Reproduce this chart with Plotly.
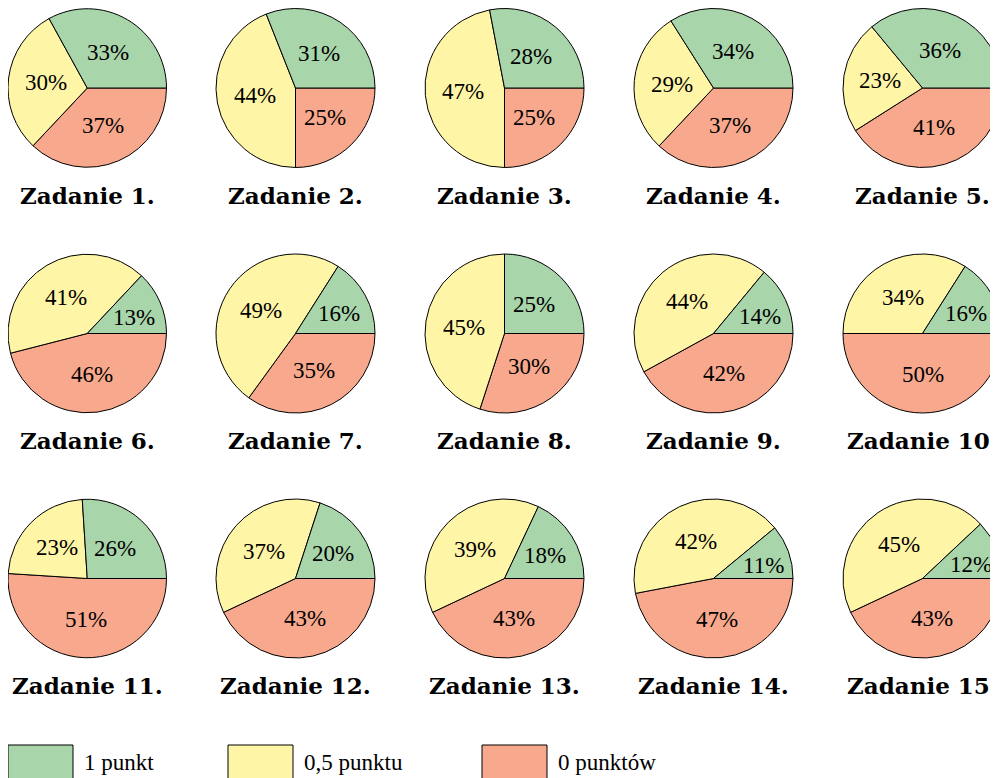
import math
import plotly.graph_objects as go

# ---- data ----
titles = [f"Zadanie {i}." for i in range(1, 16)]
one_point = [33, 31, 28, 34, 36, 13, 16, 25, 14, 16, 26, 20, 18, 11, 12]
half_point = [30, 44, 47, 29, 23, 41, 49, 45, 44, 34, 23, 37, 39, 42, 45]
zero_point = [37, 25, 25, 37, 41, 46, 35, 30, 42, 50, 51, 43, 43, 47, 43]
series_names = ["1 punkt", "0,5 punktu", "0 punktów"]
colors = ["#A8D5AA", "#FFF5A6", "#F7A88D"]

# ---- layout (pixels, page coordinates; page body has an 8px margin) ----
OFF = 8
W, H = 998, 778
col_x = [87, 295.5, 504.5, 713.5, 922.5]
row_y = [88, 333.5, 578.5]
title_dy = 107
R = 79.5

def px(x):
    return (x - OFF) / W

def py(y):
    return 1 - (y - OFF) / H

def clamp(v):
    return min(1.0, max(0.0, v))

label_font = dict(family="Liberation Serif", size=23, color="black")
title_font = dict(family="DejaVu Serif", size=23, color="black")

fig = go.Figure()
annotations = []
shapes = []

for i in range(15):
    r, c = divmod(i, 5)
    cx, cy = col_x[c], row_y[r]
    vals = [one_point[i], half_point[i], zero_point[i]]
    # drawn clockwise from 3 o'clock in reverse order, so that the series
    # run counterclockwise: 1 punkt, 0,5 punktu, 0 punktów
    fig.add_trace(go.Pie(
        values=vals[::-1], labels=series_names[::-1], sort=False,
        direction="clockwise", rotation=90,
        marker=dict(colors=colors[::-1], line=dict(color="black", width=1)),
        textinfo="none", showlegend=False, hoverinfo="label+value",
        domain=dict(x=[clamp(px(cx - R)), clamp(px(cx + R))],
                    y=[clamp(py(cy + R)), clamp(py(cy - R))]),
    ))
    total = sum(vals)
    cum = 0
    for v in vals:
        share = v / total
        start = cum / total * 360
        mid_deg = start + share * 180
        cum += v
        # narrow slices: push the label outward and toward the slice start
        small = max(0.0, 0.25 - share)
        rad = R * (0.52 + 0.9 * small)
        ang = math.radians(mid_deg - 40 * small)
        lx = cx + rad * math.cos(ang)
        ly = cy - rad * math.sin(ang)
        annotations.append(dict(
            x=px(lx), y=py(ly), xref="paper", yref="paper",
            text=f"{v}%", showarrow=False, font=label_font,
            xanchor="center", yanchor="middle"))
    annotations.append(dict(
        x=px(cx), y=py(cy + title_dy), xref="paper", yref="paper",
        text=f"<b>{titles[i]}</b>", showarrow=False, font=title_font,
        xanchor="center", yanchor="middle"))

# legend
leg_box_x = [8, 228, 482]
for name, col, bx in zip(series_names, colors, leg_box_x):
    shapes.append(dict(
        type="rect", xref="paper", yref="paper",
        x0=px(bx), x1=px(bx + 65), y0=py(779), y1=py(745),
        fillcolor=col, line=dict(color="black", width=1)))
    annotations.append(dict(
        x=px(bx + 74), y=py(762), xref="paper", yref="paper",
        text=name, showarrow=False, font=label_font,
        xanchor="left", yanchor="middle"))

fig.update_layout(
    width=W, height=H,
    margin=dict(l=0, r=0, t=0, b=0),
    paper_bgcolor="white", plot_bgcolor="white",
    annotations=annotations, shapes=shapes,
)

fig.write_html("out.html")
